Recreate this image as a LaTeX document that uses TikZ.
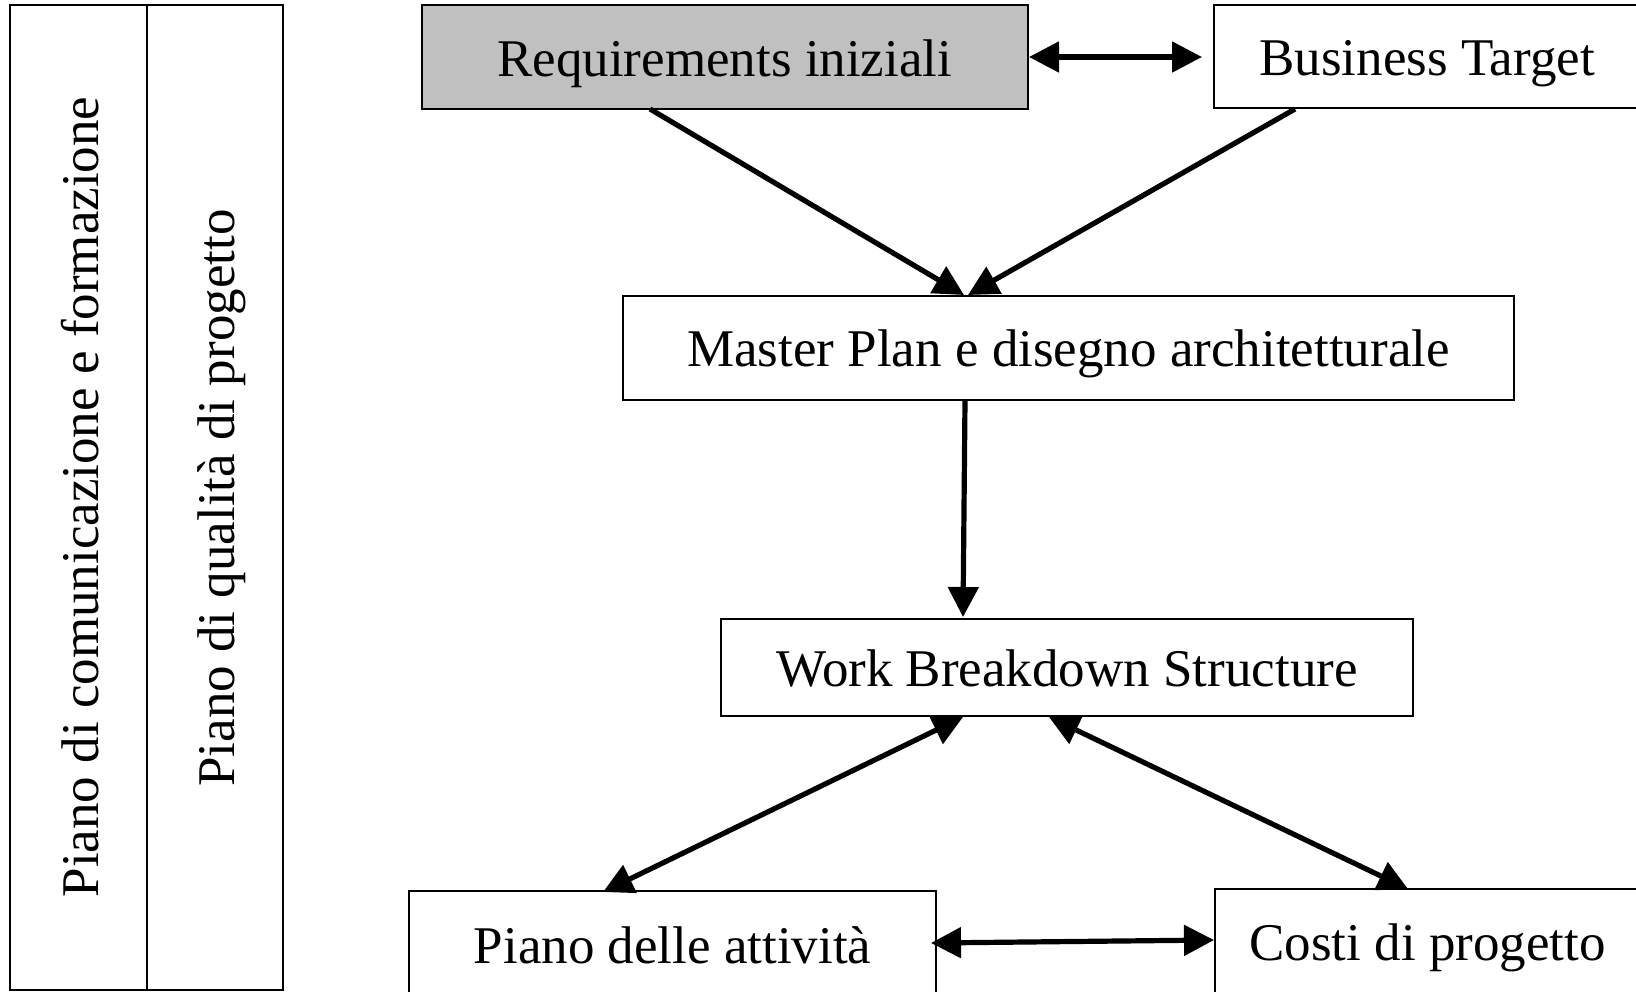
\documentclass[tikz,border=0pt]{standalone}
\usepackage{fontspec}
\setmainfont{Liberation Serif}
\usetikzlibrary{arrows.meta}
\definecolor{reqgray}{RGB}{192,192,192}
\newcommand{\dn}[2]{\raisebox{#1}[\height][\depth]{#2}}
\begin{document}
\begin{tikzpicture}[x=0.5pt,y=-0.5pt,
  box/.style={draw=black,line width=1pt,fill=white,inner sep=0pt,font=\fontsize{26.5}{32}\selectfont},
  panel/.style={draw=black,line width=1pt,inner sep=0pt},
  vtext/.style={rotate=90,anchor=base,inner sep=0pt,font=\fontsize{26.5}{32}\selectfont},
  conn/.style={line width=2.6pt,-{Triangle[length=15pt,width=15pt]}},
  conn2/.style={line width=2.6pt,{Triangle[length=15pt,width=15pt]}-{Triangle[length=15pt,width=15pt]}}]
\useasboundingbox (0,0) rectangle (1636,991);
\clip (0,0) rectangle (1636,991);
\fill[white] (0,0) rectangle (1636,991);
% left panels
\node[panel,minimum width=68.5pt,minimum height=492.5pt] (p1) at (78.5,497.5) {};
\node[panel,minimum width=68pt,minimum height=492.5pt] (p2) at (215,497.5) {};
\node[vtext] (t1) at (98,497) {Piano di comunicazione e formazione};
\node[vtext] (t2) at (234,498) {Piano di qualità di progetto};
% boxes
\node[box,fill=reqgray,minimum width=303.25pt,minimum height=51.75pt] (req) at (724.75,56.75) {\dn{-3.6pt}{Requirements iniziali}};
\node[box,minimum width=213pt,minimum height=51.5pt] (bt) at (1427,56.5) {\dn{-3.6pt}{Business Target}};
\node[box,minimum width=445.5pt,minimum height=52pt] (mp) at (1068.5,348) {\dn{-3pt}{Master Plan e disegno architetturale}};
\node[box,minimum width=346pt,minimum height=48.5pt] (wbs) at (1067,667.5) {\dn{-0.5pt}{Work Breakdown Structure}};
\node[box,minimum width=263.5pt,minimum height=53pt] (pa) at (672.5,944) {\dn{-0.5pt}{Piano delle attività}};
\node[box,minimum width=212.5pt,minimum height=53pt] (cp) at (1427.5,942) {\dn{-3pt}{Costi di progetto}};
% connector end points
\coordinate (a1) at (1029,57);
\coordinate (a2) at (1202,57);
\coordinate (b1) at (650,109);
\coordinate (b2) at (964,295);
\coordinate (c1) at (1295,109);
\coordinate (c2) at (968,295);
\coordinate (d1) at (965,400);
\coordinate (d2) at (963,617);
\coordinate (e1) at (963,717);
\coordinate (e2) at (603,892);
\coordinate (f1) at (1049,717);
\coordinate (f2) at (1408,889);
\coordinate (g1) at (931,943);
\coordinate (g2) at (1214,940);
% connectors
\draw[conn2] (a1) -- (a2);
\draw[conn] (b1) -- (b2);
\draw[conn] (c1) -- (c2);
\draw[conn] (d1) -- (d2);
\draw[conn2] (e1) -- (e2);
\draw[conn2] (f1) -- (f2);
\draw[conn2] (g1) -- (g2);
\end{tikzpicture}
\end{document}
